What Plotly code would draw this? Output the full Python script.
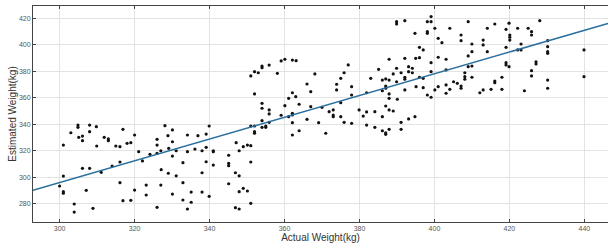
import plotly.graph_objects as go

# Actual weight (kg) and estimated weight (kg)
actual_weight = [
    304.9, 304.9, 308.0, 309.8, 303.0, 308.0, 305.1, 306.1, 306.1, 311.9, 313.0, 313.0, 316.9,
    301.0, 309.9, 315.0, 316.1, 318.0, 319.0, 306.1, 308.0, 311.1, 314.0, 316.1, 301.0, 300.0,
    301.0, 301.0, 307.1, 316.1, 303.9, 303.9, 308.9, 316.9, 319.0,
    320.0, 328.1, 330.1, 328.9, 326.0, 326.0, 330.1, 334.1, 336.9, 339.1, 339.9, 321.1, 322.1,
    324.1, 326.0, 327.0, 329.1, 331.1, 330.1, 334.1, 336.1, 338.0, 339.1, 341.0, 341.0, 332.9,
    339.1, 341.0, 327.1, 329.0, 331.1, 338.0, 332.9, 323.1, 327.0, 320.0, 335.1, 338.0, 323.1,
    330.1, 339.9, 332.9, 335.1, 326.0, 334.1,
    347.1, 345.1, 345.1, 345.1, 347.9, 349.0, 350.1, 351.0, 346.9, 347.9, 345.1, 349.0, 347.9,
    350.1, 351.0, 346.9, 347.9, 351.0,
    351.0, 352.0, 353.0, 354.0, 354.0, 355.9, 358.1, 359.1, 360.1, 362.1, 363.1, 352.0, 354.0,
    354.0, 355.9, 355.9, 359.1, 360.1, 361.1, 362.1, 363.0, 362.1, 362.1, 361.1, 363.9, 366.0,
    367.0, 368.1, 367.0, 366.0, 369.1, 351.0, 352.0, 352.0, 352.0, 354.0, 354.0, 355.0, 355.0,
    355.9, 362.1, 362.1, 363.9,
    371.0, 370.0, 371.9, 373.0, 373.0, 373.0, 373.9, 373.9, 375.0, 375.9, 377.0, 377.9, 377.9,
    375.0, 375.0, 375.9, 377.9, 379.9, 381.0, 381.9, 381.9, 383.0, 381.9, 384.1, 384.1, 385.1,
    386.1, 387.0, 387.9, 386.1, 387.0, 387.0, 387.9, 387.9, 387.0, 387.9, 386.1, 386.1, 387.0,
    387.0, 387.9, 387.9, 389.0, 389.0, 389.9, 389.9, 389.9, 389.9, 390.1, 391.1, 391.1, 391.1,
    392.1, 392.1, 392.1, 392.1, 392.1, 393.1, 393.1, 394.1, 394.1, 393.1, 394.8, 394.8,
    395.0, 396.0, 397.0, 396.0, 398.1, 399.1, 399.1, 398.1, 398.1, 400.1, 399.1, 399.1, 396.0,
    397.0, 395.1, 397.0, 398.1, 399.1, 400.1, 401.0, 401.0, 401.0, 402.0, 403.1, 403.1, 403.1,
    403.1, 404.1, 404.1, 405.1, 406.1, 407.1, 407.1, 407.1, 407.1, 408.1, 408.1, 408.1, 409.0,
    410.0, 409.0, 409.0, 410.0, 410.0, 410.0, 412.1, 413.0, 413.0, 413.0, 414.1, 414.1, 415.1,
    416.1, 416.1, 416.1, 418.0, 418.0, 419.1, 419.1, 419.1, 419.1, 419.9, 419.9,
    420.1, 420.1, 420.1, 422.2, 422.2, 423.1, 423.1, 425.0, 425.9, 425.9, 428.1, 427.1, 427.1,
    425.9, 425.9, 424.0, 430.2, 430.2, 430.2, 430.2, 430.2, 430.2, 439.9, 439.9,
]
estimated_weight = [
    339.4, 337.7, 339.4, 338.2, 333.6, 334.4, 330.1, 331.1, 327.6, 330.1, 328.9, 327.6, 336.2,
    324.3, 323.6, 323.6, 323.1, 325.6, 326.1, 306.7, 306.7, 303.7, 308.5, 311.5, 300.9, 293.4,
    289.1, 287.9, 290.1, 295.9, 279.8, 273.7, 276.5, 282.3, 282.6,
    331.9, 338.9, 335.7, 331.4, 328.6, 324.3, 326.8, 331.9, 331.4, 332.6, 338.7, 319.3, 312.3,
    317.3, 318.1, 320.0, 321.8, 320.0, 316.0, 319.3, 321.3, 320.0, 322.6, 320.0, 319.3, 311.0,
    311.7, 309.2, 305.7, 303.0, 301.1, 303.4, 295.9, 294.1, 294.1, 290.3, 288.8, 288.8, 286.6,
    287.3, 285.6, 282.8, 281.1, 277.3, 276.0,
    326.1, 316.6, 310.5, 308.7, 320.0, 323.1, 324.3, 323.8, 303.4, 301.1, 295.1, 291.6, 289.1,
    289.6, 311.5, 277.0, 276.0, 280.3,
    376.5, 379.7, 378.9, 384.0, 382.7, 384.7, 378.5, 387.8, 389.1, 388.5, 388.0, 362.9, 355.8,
    352.1, 350.8, 347.8, 346.8, 354.0, 359.6, 363.8, 360.8, 348.3, 347.0, 345.7, 355.1, 370.4,
    364.6, 378.0, 353.3, 343.7, 341.2, 338.7, 338.7, 334.4, 333.2, 342.7, 337.7, 338.7, 337.7,
    341.5, 341.2, 331.9, 335.1,
    333.2, 352.8, 349.5, 350.8, 347.0, 345.7, 370.2, 365.9, 374.7, 378.9, 384.8, 368.4, 362.1,
    356.3, 345.7, 341.5, 340.7, 350.8, 346.2, 349.3, 339.4, 374.7, 363.8, 349.5, 337.7, 381.5,
    373.4, 374.2, 373.4, 365.3, 368.9, 367.2, 362.9, 359.6, 353.8, 350.8, 345.7, 335.1, 333.6,
    332.4, 336.2, 389.1, 378.0, 350.0, 382.3, 372.1, 417.5, 415.7, 358.9, 378.9, 341.5, 336.2,
    418.2, 389.8, 375.5, 374.0, 365.9, 383.5, 379.7, 382.3, 378.9, 344.0, 408.7, 345.7,
    389.8, 398.1, 396.1, 390.3, 417.5, 417.5, 421.3, 409.9, 408.7, 412.5, 386.5, 379.7, 375.5,
    374.7, 368.4, 367.6, 362.1, 360.4, 365.9, 368.4, 390.6, 404.9, 401.6, 389.1, 381.0, 369.7,
    363.4, 412.5, 366.4, 372.1, 370.9, 407.4, 403.1, 368.9, 367.2, 378.9, 375.9, 374.0, 383.5,
    384.0, 417.5, 391.6, 400.6, 394.8, 375.5, 363.8, 365.9, 403.6, 399.9, 412.5, 394.8, 366.4,
    415.7, 372.6, 371.4, 375.5, 366.4, 411.7, 398.1, 386.5, 384.8, 416.3, 383.5,
    407.4, 405.7, 403.6, 412.5, 396.1, 400.6, 396.1, 412.5, 409.9, 407.4, 418.2, 387.2, 385.5,
    380.5, 376.5, 365.3, 403.1, 398.6, 394.8, 393.6, 373.4, 367.2, 396.1, 375.9,
]

# Fitted regression line
fit_intercept = 49.3
fit_slope = 0.822

x_range = [292.9, 446.3]
y_range = [266.2, 429.3]
x_ticks = [300, 320, 340, 360, 380, 400, 420, 440]
y_ticks = [280, 300, 320, 340, 360, 380, 400, 420]

fit_x = x_range
fit_y = [fit_intercept + fit_slope * v for v in fit_x]

FONT = "Liberation Sans, Arial, sans-serif"

fig = go.Figure()
fig.add_trace(go.Scatter(
    x=actual_weight, y=estimated_weight, mode="markers",
    marker=dict(color="#111111", size=3.2, symbol="circle", line=dict(width=0)),
    showlegend=False,
))
fig.add_trace(go.Scatter(
    x=fit_x, y=fit_y, mode="lines",
    line=dict(color="#2a6f9e", width=1.5),
    showlegend=False,
))

axis_common = dict(
    showgrid=True, gridcolor="#e3e3e3", gridwidth=1,
    zeroline=False, showline=True, linecolor="#444444", linewidth=1,
    ticks="inside", ticklen=3, tickcolor="#444444", automargin=False,
    tickfont=dict(family=FONT, size=7, color="#555555"),
)

fig.update_layout(
    width=608, height=247,
    margin=dict(l=33, r=0, t=6, b=25),
    paper_bgcolor="white", plot_bgcolor="white",
    xaxis=dict(
        range=x_range, tickvals=x_ticks, mirror="ticks", **axis_common,
        title=dict(text="Actual Weight(kg)", standoff=0,
                   font=dict(family=FONT, size=10, color="#333333")),
    ),
    yaxis=dict(
        range=y_range, tickvals=y_ticks, **axis_common,
        title=dict(text="Estimated Weight(kg)", standoff=0,
                   font=dict(family=FONT, size=10, color="#333333")),
    ),
)

fig.write_html(
    "out.html",
    config={"displayModeBar": False},
    post_script="document.body.style.margin='0';document.body.style.overflow='hidden';",
)
